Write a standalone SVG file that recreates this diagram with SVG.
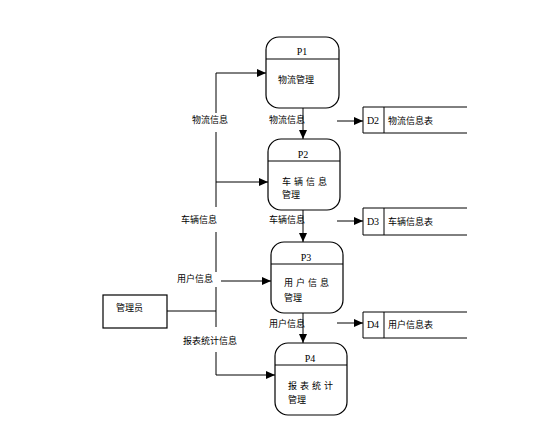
<svg xmlns="http://www.w3.org/2000/svg" width="555" height="432" viewBox="0 0 555 432">
<style>
.ln{stroke:#000;stroke-width:1;fill:none}
.box{stroke:#000;stroke-width:1.2;fill:#fff}
.t{font-family:"Noto Sans CJK SC","Liberation Sans",sans-serif;font-size:9px;fill:#000}
.p{font-family:"Liberation Serif",serif;font-size:10px;fill:#000;text-anchor:middle}
</style>
<defs>
<marker id="ah" markerWidth="9" markerHeight="8" refX="9" refY="4" orient="auto" markerUnits="userSpaceOnUse">
<path d="M0,0 L9,4 L0,8 Z" fill="#000"/>
</marker>
</defs>
<rect width="555" height="432" fill="#fff"/>
<g id="connectors">
<!-- main vertical bus -->
<polyline class="ln" points="216,113 216,73 266,73" marker-end="url(#ah)"/>
<line class="ln" x1="216" y1="132" x2="216" y2="207"/>
<line class="ln" x1="216" y1="182" x2="268" y2="182" marker-end="url(#ah)"/>
<line class="ln" x1="216" y1="232" x2="216" y2="272"/>
<line class="ln" x1="221" y1="281" x2="271" y2="281" marker-end="url(#ah)"/>
<line class="ln" x1="216" y1="287" x2="216" y2="327"/>
<line class="ln" x1="167" y1="311" x2="216" y2="311"/>
<polyline class="ln" points="216,352 216,375 275,375" marker-end="url(#ah)"/>
<!-- vertical process flows -->
<line class="ln" x1="303" y1="108" x2="303" y2="139" marker-end="url(#ah)"/>
<line class="ln" x1="303" y1="210" x2="303" y2="242" marker-end="url(#ah)"/>
<line class="ln" x1="303" y1="313" x2="303" y2="343" marker-end="url(#ah)"/>
<!-- to stores -->
<line class="ln" x1="337" y1="121" x2="363" y2="121" marker-end="url(#ah)"/>
<line class="ln" x1="337" y1="221" x2="363" y2="221" marker-end="url(#ah)"/>
<line class="ln" x1="337" y1="323" x2="363" y2="323" marker-end="url(#ah)"/>
<!-- labels -->
<text class="t" x="192" y="123">物流信息</text>
<text class="t" x="269" y="123">物流信息</text>
<text class="t" x="181" y="223">车辆信息</text>
<text class="t" x="269" y="223">车辆信息</text>
<text class="t" x="177" y="282">用户信息</text>
<text class="t" x="269" y="327">用户信息</text>
<text class="t" x="183" y="344">报表统计信息</text>
</g>
<g id="P1">
<rect class="box" x="266" y="37" width="73" height="71" rx="13"/>
<line class="ln" x1="266" y1="59" x2="339" y2="59"/>
<text class="p" x="302" y="55">P1</text>
<text class="t" x="278" y="83">物流管理</text>
</g>
<g id="P2">
<rect class="box" x="268" y="139" width="72" height="71" rx="13"/>
<line class="ln" x1="268" y1="161" x2="340" y2="161"/>
<text class="p" x="303" y="158">P2</text>
<text class="t" x="282" y="185" letter-spacing="3">车辆信息</text>
<text class="t" x="282" y="198">管理</text>
</g>
<g id="P3">
<rect class="box" x="271" y="242" width="72" height="71" rx="13"/>
<line class="ln" x1="271" y1="264" x2="343" y2="264"/>
<text class="p" x="306" y="261">P3</text>
<text class="t" x="284" y="286" letter-spacing="3">用户信息</text>
<text class="t" x="284" y="301">管理</text>
</g>
<g id="P4">
<rect class="box" x="275" y="343" width="72" height="72" rx="13"/>
<line class="ln" x1="275" y1="365" x2="347" y2="365"/>
<text class="p" x="310" y="362">P4</text>
<text class="t" x="288" y="389" letter-spacing="3">报表统计</text>
<text class="t" x="288" y="403">管理</text>
</g>
<g id="admin">
<rect class="box" x="103" y="295" width="64" height="33"/>
<text class="t" x="116" y="311">管理员</text>
</g>
<g id="D2">
<polyline class="ln" points="467,107 363,107 363,133 467,133"/>
<line class="ln" x1="384" y1="107" x2="384" y2="133"/>
<text class="p" x="373" y="124">D2</text>
<text class="t" x="388" y="124">物流信息表</text>
</g>
<g id="D3">
<polyline class="ln" points="467,208 363,208 363,235 467,235"/>
<line class="ln" x1="384" y1="208" x2="384" y2="235"/>
<text class="p" x="373" y="225">D3</text>
<text class="t" x="388" y="225">车辆信息表</text>
</g>
<g id="D4">
<polyline class="ln" points="467,312 363,312 363,338 467,338"/>
<line class="ln" x1="384" y1="312" x2="384" y2="338"/>
<text class="p" x="373" y="328">D4</text>
<text class="t" x="388" y="328">用户信息表</text>
</g>
</svg>
